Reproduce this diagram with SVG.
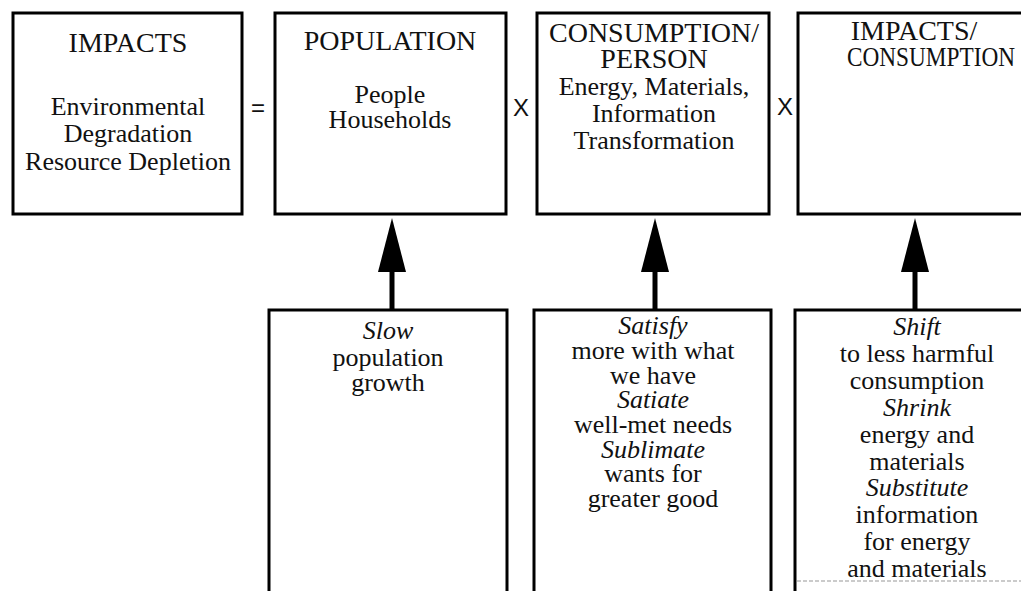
<svg xmlns="http://www.w3.org/2000/svg" width="1021" height="591" viewBox="0 0 1021 591">
<style>
.box{fill:none;stroke:#000;stroke-width:3}
.t{font-family:"Liberation Serif","Times New Roman",serif;fill:#111;text-anchor:middle}
.h{font-size:28px}
.b{font-size:26px}
.i{font-style:italic}
.op{font-family:"Liberation Sans",Arial,sans-serif;font-size:24px;fill:#111;text-anchor:middle}
.shaft{stroke:#000;stroke-width:5}
.head{fill:#000}
</style>
<rect width="1021" height="591" fill="#fff"/>
<g id="impacts">
<rect class="box" x="13" y="13" width="229" height="201"/>
<text class="t h" x="128" y="52">IMPACTS</text>
<text class="t b" x="128" y="115">Environmental</text>
<text class="t b" x="128" y="142">Degradation</text>
<text class="t b" x="128" y="170">Resource Depletion</text>
</g>
<g id="population">
<rect class="box" x="275" y="13" width="231" height="201"/>
<text class="t h" x="390" y="50">POPULATION</text>
<text class="t b" x="390" y="103">People</text>
<text class="t b" x="390" y="128">Households</text>
</g>
<g id="consumption-person">
<rect class="box" x="537" y="13" width="232" height="201"/>
<text class="t h" x="654" y="42">CONSUMPTION/</text>
<text class="t h" x="654" y="68">PERSON</text>
<text class="t b" x="654" y="95">Energy, Materials,</text>
<text class="t b" x="654" y="122">Information</text>
<text class="t b" x="654" y="149">Transformation</text>
</g>
<g id="impacts-consumption">
<path class="box" d="M1023,13 H798 V214 H1023"/>
<text class="t h" x="914" y="40">IMPACTS/</text>
<text class="t h" x="847" y="66" style="text-anchor:start" textLength="168" lengthAdjust="spacingAndGlyphs">CONSUMPTION</text>
</g>
<g id="operators">
<text class="op" x="258" y="116">=</text>
<text class="op" x="521" y="116">X</text>
<text class="op" x="785" y="115">X</text>
</g>
<g id="slow">
<path class="box" d="M269,593 V310 H507 V593"/>
<text class="t b i" x="388" y="339">Slow</text>
<text class="t b" x="388" y="366">population</text>
<text class="t b" x="388" y="391">growth</text>
</g>
<g id="satisfy">
<path class="box" d="M534,593 V310 H771 V593"/>
<text class="t b i" x="653" y="334">Satisfy</text>
<text class="t b" x="653" y="359">more with what</text>
<text class="t b" x="653" y="384">we have</text>
<text class="t b i" x="653" y="408">Satiate</text>
<text class="t b" x="653" y="433">well-met needs</text>
<text class="t b i" x="653" y="458">Sublimate</text>
<text class="t b" x="653" y="482">wants for</text>
<text class="t b" x="653" y="507">greater good</text>
</g>
<g id="shift">
<path class="box" d="M795,593 V310 H1023"/>
<line x1="797" y1="581" x2="1021" y2="581" stroke="#bbb" stroke-width="1.5" stroke-dasharray="4 2"/>
<text class="t b i" x="917" y="335">Shift</text>
<text class="t b" x="917" y="362">to less harmful</text>
<text class="t b" x="917" y="389">consumption</text>
<text class="t b i" x="917" y="416">Shrink</text>
<text class="t b" x="917" y="443">energy and</text>
<text class="t b" x="917" y="470">materials</text>
<text class="t b i" x="917" y="496">Substitute</text>
<text class="t b" x="917" y="523">information</text>
<text class="t b" x="917" y="550">for energy</text>
<text class="t b" x="917" y="577">and materials</text>
</g>
<g id="connectors">
<line class="shaft" x1="392" y1="310" x2="392" y2="268"/>
<polygon class="head" points="392,218 378,272 406,272"/>
<line class="shaft" x1="655" y1="310" x2="655" y2="268"/>
<polygon class="head" points="655,218 641,272 669,272"/>
<line class="shaft" x1="915" y1="310" x2="915" y2="268"/>
<polygon class="head" points="915,218 901,272 929,272"/>
</g>
</svg>
